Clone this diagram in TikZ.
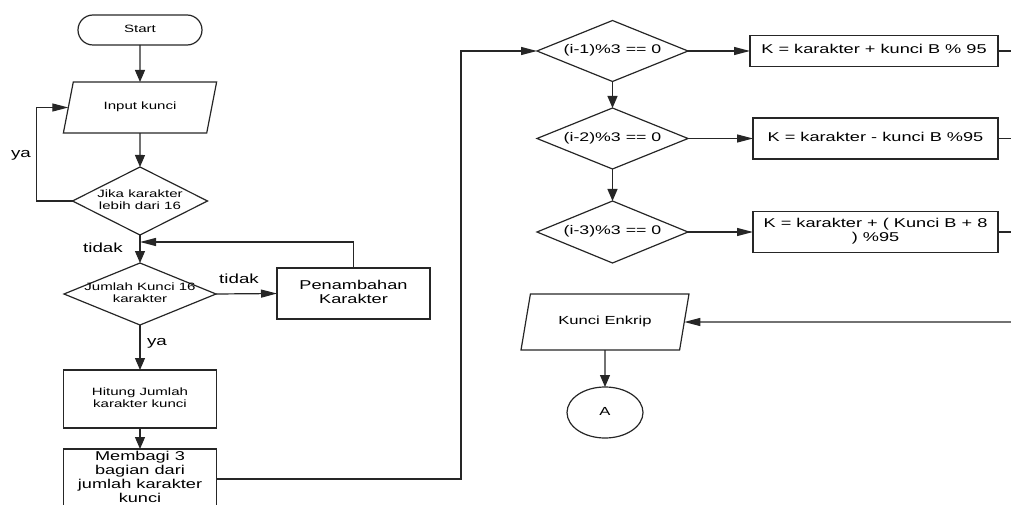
\documentclass[tikz,border=0pt]{standalone}
\usepackage{fontspec}
\setmainfont{Liberation Sans}
\usepackage{graphicx}
\usetikzlibrary{shapes.geometric,shapes.misc,arrows.meta}

% text is set a little wider than its natural shape
\newcommand{\stretched}[1]{\scalebox{1.42}[1]{\begin{tabular}{@{}c@{}}#1\end{tabular}}}

\begin{document}
\begin{tikzpicture}[x=1pt, y=-1pt,
  ln/.style={draw=black!85, line width=1.2pt},
  fsmall/.style={font=\fontsize{10.6}{11.6}\selectfont},
  fbig/.style={font=\fontsize{12.8}{14}\selectfont},
  fcond/.style={font=\fontsize{12.5}{13.5}\selectfont},
  fout/.style={font=\fontsize{11.7}{12.6}\selectfont},
  flab/.style={font=\fontsize{13.2}{14}\selectfont, inner sep=0pt, text=black},
  base/.style={ln, inner sep=0pt, outer sep=0pt, text=black},
  terminal/.style={base, rounded rectangle},
  process/.style={base, rectangle},
  io/.style={base, trapezium, trapezium left angle=65, trapezium right angle=115, trapezium stretches=true},
  decision/.style={base, diamond},
  connector/.style={base, ellipse},
  vflow/.style={ln, -{Triangle[length=12pt,width=10pt]}},
  hflow/.style={ln, -{Triangle[length=16pt,width=8pt]}},
  link/.style={ln},
]
\useasboundingbox (0,0) rectangle (1011,505);

% left column
\node[terminal, fsmall, minimum width=124pt, minimum height=30pt] (start) at (140,30) {\stretched{Start}};
\node[io, fsmall, minimum width=154pt, minimum height=51pt] (input) at (140,107.5) {\stretched{Input kunci}};
\node[decision, minimum width=135pt, minimum height=68pt,
      label={[fsmall, text=black]center:\stretched{Jika karakter\\lebih dari 16}}] (d1) at (140,201) {};
\node[decision, minimum width=152pt, minimum height=62pt,
      label={[fsmall, text=black]center:\stretched{Jumlah Kunci 16\\karakter}}] (d2) at (140,294) {};
\node[process, fbig, minimum width=153pt, minimum height=51pt] (tambah) at (353.5,293.5) {\stretched{Penambahan\\Karakter}};
\node[process, fsmall, minimum width=153pt, minimum height=58pt] (hitung) at (140,399) {\stretched{Hitung Jumlah\\karakter kunci}};
\node[process, fbig, minimum width=153pt, minimum height=60pt] (membagi) at (140,479) {\stretched{Membagi 3\\bagian dari\\jumlah karakter\\kunci}};

% right column
\node[decision, minimum width=151pt, minimum height=61pt,
      label={[fcond, text=black]center:\stretched{(i-1)\%3 == 0}}] (c1) at (612.5,51) {};
\node[decision, minimum width=151pt, minimum height=61pt,
      label={[fcond, text=black]center:\stretched{(i-2)\%3 == 0}}] (c2) at (612.5,138.5) {};
\node[decision, minimum width=151pt, minimum height=62pt,
      label={[fcond, text=black]center:\stretched{(i-3)\%3 == 0}}] (c3) at (612.5,232) {};
\node[process, fbig, minimum width=248pt, minimum height=31pt] (k1) at (874,51) {\stretched{K = karakter + kunci B \% 95}};
\node[process, fbig, minimum width=245pt, minimum height=41pt] (k2) at (875.5,138.5) {\stretched{K = karakter - kunci B \%95}};
\node[process, fbig, minimum width=245pt, minimum height=41pt] (k3) at (875.5,232) {\stretched{K = karakter + ( Kunci B + 8\\) \%95}};
\node[io, fout, minimum width=168pt, minimum height=56pt] (enkrip) at (605,322) {\stretched{Kunci Enkrip}};
\node[connector, fout, minimum width=76pt, minimum height=51pt] (conA) at (605,412.5) {\stretched{A}};

% loose ends at the right border
\coordinate (r1) at (1011,51);
\coordinate (r2) at (1011,138.5);
\coordinate (r3) at (1011,232);
\coordinate (r4) at (1011,322);

% branch labels
\node[flab] (lya1) at (21,155) {\stretched{ya}};
\node[flab] (ltidak1) at (103,250) {\stretched{tidak}};
\node[flab] (ltidak2) at (239,281) {\stretched{tidak}};
\node[flab] (lya2) at (157,343) {\stretched{ya}};

% connectors
\draw[vflow] (start.south) -- (input.north);
\draw[vflow] (input.south) -- (d1.north);
\draw[hflow] (d1.west) -- ++(-36,0) |- (input.west);
\draw[vflow] (d1.south) -- (d2.north);
\draw[hflow] (tambah.north) |- ([yshift=21pt]d2.north);
\draw[hflow] (d2.east) -- (tambah.west);
\draw[vflow] (d2.south) -- (hitung.north);
\draw[vflow] (hitung.south) -- (membagi.north);
\draw[hflow] (membagi.east) -| ([xshift=-76pt]c1.west) -- (c1.west);
\draw[hflow] (c1.east) -- (k1.west);
\draw[vflow] (c1.south) -- (c2.north);
\draw[hflow] (c2.east) -- (k2.west);
\draw[vflow] (c2.south) -- (c3.north);
\draw[hflow] (c3.east) -- (k3.west);
\draw[link] (k1.east) -- (r1);
\draw[link] (k2.east) -- (r2);
\draw[link] (k3.east) -- (r3);
\draw[hflow] (r4) -- (enkrip.east);
\draw[vflow] (enkrip.south) -- (conA.north);
\end{tikzpicture}
\end{document}
